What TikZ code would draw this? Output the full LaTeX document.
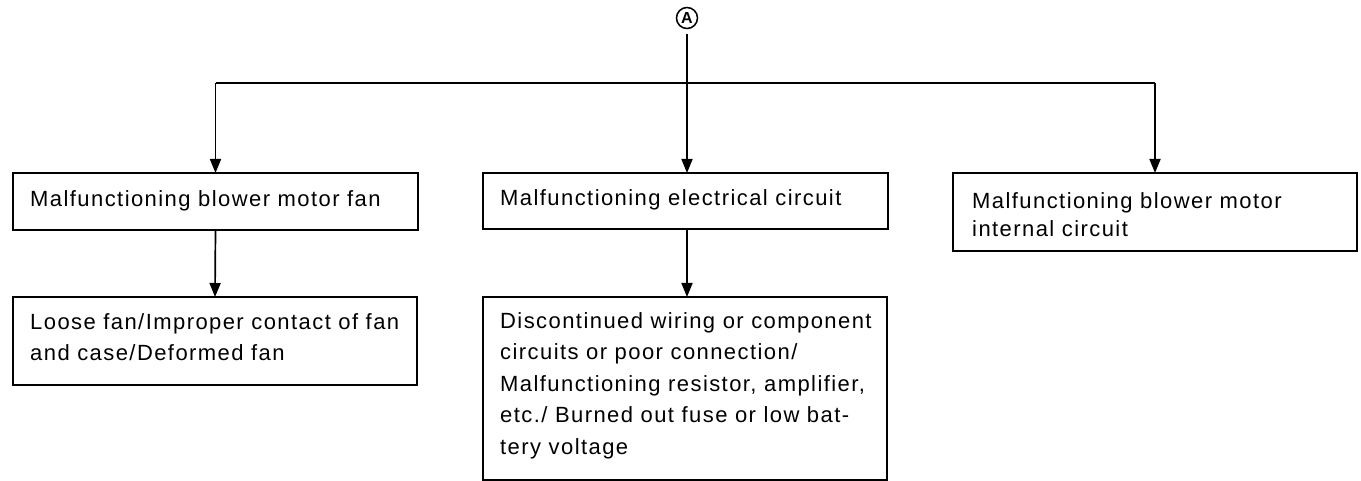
\documentclass[tikz,border=0pt]{standalone}
\usepackage{fontspec}
\setmainfont{Liberation Sans}[LetterSpace=6.5]
\usetikzlibrary{arrows.meta}
\begin{document}
\begin{tikzpicture}[x=1pt,y=-1pt,
  box/.style={draw, line width=1.7pt, rectangle, inner sep=0pt, outer sep=0pt, anchor=north west},
  txt/.style={anchor=base west, inner sep=0pt, font=\fontsize{22}{31}\selectfont},
  arr/.style={line width=1.7pt, -{Triangle[length=14pt,width=11pt]}},
  ln/.style={line width=1.7pt}]
\useasboundingbox (0,0) rectangle (1361,481);
\node[draw, circle, line width=1.5pt, minimum size=21pt, inner sep=0pt, font=\fontsize{16}{16}\selectfont\bfseries] (A) at (687,18) {A};
\node[box, minimum width=405pt, minimum height=57pt] (b1) at (13,173) {};
\node[box, minimum width=404pt, minimum height=88pt] (b1b) at (13,297) {};
\node[box, minimum width=405pt, minimum height=56pt] (b2) at (483,173) {};
\node[box, minimum width=404pt, minimum height=183pt] (b2b) at (483,297) {};
\node[box, minimum width=404pt, minimum height=78pt] (b3) at (953,173) {};
\coordinate (h) at (687,83);
\draw[ln] (b1.north |- h) -- (b3.north |- h);
\draw[arr] (b1.north |- h) -- (b1.north);
\draw[arr] (b3.north |- h) -- (b3.north);
\draw[arr, shorten <=5pt] (A.south) -- (A.south |- b2.north);
\draw[arr] (b1.south) -- (b1b.north);
\draw[arr] (b2.south -| A.south) -- (b2b.north -| A.south);
\node[txt] (t1) at (30,207) {Malfunctioning blower motor fan};
\node[txt] (t2) at (30,329.3) {Loose fan/Improper contact of fan};
\node[txt] (t3) at (30,360.7) {and case/Deformed fan};
\node[txt] (t4) at (500,206) {Malfunctioning electrical circuit};
\node[txt] (t5) at (500,328) {Discontinued wiring or component};
\node[txt] (t6) at (500,359.5) {circuits or poor connection/};
\node[txt] (t7) at (500,391) {Malfunctioning resistor, amplifier,};
\node[txt] (t8) at (500,422.5) {etc./ Burned out fuse or low bat-};
\node[txt] (t9) at (500,454) {tery voltage};
\node[txt] (t10) at (972,208.3) {Malfunctioning blower motor};
\node[txt] (t11) at (972,236.7) {internal circuit};
\end{tikzpicture}
\end{document}
